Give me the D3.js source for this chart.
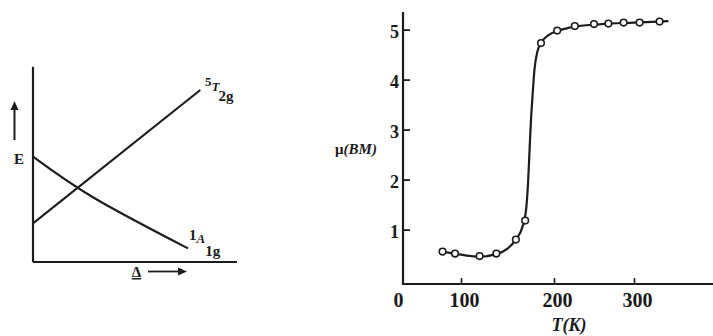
<!DOCTYPE html>
<html><head><meta charset="utf-8">
<script src="https://cdn.jsdelivr.net/npm/d3@7"></script>
<style>
body{margin:0;background:#fff;}
svg{display:block;}
text{font-family:"Liberation Serif","DejaVu Serif",serif;fill:#1a1a1a;}
</style></head><body>
<svg id="c" width="713" height="336"></svg>
<script>
// ---------- Left panel: energy vs ligand field (schematic) ----------
const lowSpinLabel = "1A1g";
const highSpinLabel = "5T2g";
const lowSpinDelta = [0, 3.0, 7.6];
const lowSpinE     = [5.27, 3.2, 0.68];
const highSpinDelta = [0, 8.2];
const highSpinE     = [1.93, 8.6];

// ---------- Right panel: magnetic moment vs temperature ----------
const tempTicks = [0, 100, 200, 300];
const muTicks = [1, 2, 3, 4, 5];
const measuredT  = [72, 91, 120, 138, 159, 169, 186, 204, 226, 250, 268, 287, 307, 332];
const measuredMu = [0.56, 0.52, 0.47, 0.52, 0.80, 1.18, 4.73, 4.98, 5.07, 5.11, 5.12, 5.14, 5.14, 5.16];
const fitT  = [72, 91, 120, 138, 150, 159, 166, 170, 172, 173.5, 175, 177, 179, 182, 186, 195, 204, 226, 260, 300, 343];
const fitMu = [0.56, 0.52, 0.46, 0.51, 0.62, 0.80, 1.05, 1.4, 1.9, 2.5, 3.1, 3.7, 4.2, 4.55, 4.73, 4.9, 4.97, 5.06, 5.11, 5.14, 5.17];

const svg = d3.select("#c");
const ink = "#1c1c1c";

// ===== Left panel =====
const xL = d3.scaleLinear().domain([0, 10]).range([33, 237]);
const yL = d3.scaleLinear().domain([0, 10]).range([262, 62]);
const L = svg.append("g");
L.append("line").attr("x1", xL(0)).attr("x2", xL(0)).attr("y1", yL(9.76)).attr("y2", yL(0))
  .attr("stroke", ink).attr("stroke-width", 2.2);
L.append("line").attr("x1", xL(0)).attr("x2", xL(10)).attr("y1", yL(0)).attr("y2", yL(0))
  .attr("stroke", ink).attr("stroke-width", 2.2);

const lineL = d3.line().x(d => xL(d[0])).y(d => yL(d[1])).curve(d3.curveNatural);
L.append("path").datum(d3.zip(lowSpinDelta, lowSpinE)).attr("d", lineL)
  .attr("fill", "none").attr("stroke", ink).attr("stroke-width", 2.1);
L.append("path").datum(d3.zip(highSpinDelta, highSpinE)).attr("d", lineL)
  .attr("fill", "none").attr("stroke", ink).attr("stroke-width", 2.1);

// E arrow
L.append("line").attr("x1", 14.5).attr("x2", 14.5).attr("y1", 140).attr("y2", 108)
  .attr("stroke", ink).attr("stroke-width", 2);
L.append("path").attr("d", "M10.5,110 L14.5,101 L18.5,110 Z").attr("fill", ink);
L.append("text").attr("x", 19).attr("y", 164).attr("text-anchor", "middle")
  .attr("font-size", 15).attr("font-weight", "bold").text("E");

// Delta arrow
L.append("text").attr("x", 136.5).attr("y", 277).attr("text-anchor", "middle")
  .attr("font-size", 15).attr("font-weight", "bold").attr("text-decoration", "underline").text("Δ");
L.append("line").attr("x1", 148).attr("x2", 180).attr("y1", 271.5).attr("y2", 271.5)
  .attr("stroke", ink).attr("stroke-width", 1.8);
L.append("path").attr("d", "M178,267.5 L187,271.5 L178,275.5 Z").attr("fill", ink);

// state labels
const hs = L.append("text").attr("x", 205).attr("y", 86).attr("font-size", 13).attr("font-weight", "bold");
hs.append("tspan").text(highSpinLabel[0]);
hs.append("tspan").attr("font-style", "italic").attr("dy", 5).attr("font-size", 13).text(highSpinLabel[1]);
hs.append("tspan").attr("dy", 10).attr("dx", -1).attr("font-size", 15).text(highSpinLabel.slice(2));

const ls = L.append("text").attr("x", 189).attr("y", 240).attr("font-size", 15).attr("font-weight", "bold");
ls.append("tspan").text(lowSpinLabel[0]);
ls.append("tspan").attr("font-style", "italic").attr("dy", 3).attr("font-size", 13).text(lowSpinLabel[1]);
ls.append("tspan").attr("dy", 13).attr("dx", 0).attr("font-size", 15).text(lowSpinLabel.slice(2));

// ===== Right panel =====
const xR = d3.scaleLinear().domain([0, 100, 200, 300, 400]).range([395, 461, 554, 634, 714]);
const yR = d3.scaleLinear().domain([0, 5]).range([279.6, 29.6]);
const R = svg.append("g");
const axisX0 = 403, axisY0 = 284;

// y axis line & ticks
R.append("line").attr("x1", axisX0).attr("x2", axisX0).attr("y1", yR(5.35)).attr("y2", axisY0 + 1)
  .attr("stroke", ink).attr("stroke-width", 2.2);
const yAx = R.append("g").attr("transform", `translate(${axisX0},0)`)
  .call(d3.axisLeft(yR).tickValues(muTicks).tickSize(-7).tickPadding(4).tickFormat(d3.format("d")));
yAx.select(".domain").remove();
yAx.selectAll(".tick line").attr("stroke", ink).attr("stroke-width", 1.8);
yAx.selectAll(".tick text").attr("font-size", 18).attr("font-weight", "bold")
  .attr("font-family", "Liberation Serif").attr("fill", ink).attr("dy", "0.42em");

// x axis line & ticks
R.append("line").attr("x1", axisX0 - 1).attr("x2", 713).attr("y1", axisY0).attr("y2", axisY0)
  .attr("stroke", ink).attr("stroke-width", 2.2);
const xAx = R.append("g").attr("transform", `translate(0,${axisY0})`)
  .call(d3.axisBottom(xR).tickValues(tempTicks).tickSize(-6).tickPadding(9).tickFormat(d3.format("d")));
xAx.select(".domain").remove();
xAx.selectAll(".tick line").attr("stroke", ink).attr("stroke-width", 1.6)
  .attr("display", d => d === 0 ? "none" : null);
xAx.selectAll(".tick text").attr("font-size", 20).attr("font-weight", "bold")
  .attr("font-family", "Liberation Serif").attr("fill", ink).attr("dx", 3);

// axis titles
R.append("text").attr("x", 569).attr("y", 331).attr("text-anchor", "middle")
  .attr("font-size", 18).attr("font-style", "italic").attr("font-weight", "bold").text("T(K)");
const mu = R.append("text").attr("x", 356).attr("y", 154).attr("text-anchor", "middle")
  .attr("font-size", 15).attr("font-weight", "bold").attr("fill", "#444");
mu.append("tspan").text("μ");
mu.append("tspan").attr("font-style", "italic").text("(BM)");

// fitted curve
const lineR = d3.line().x(d => xR(d[0])).y(d => yR(d[1])).curve(d3.curveMonotoneX);
R.append("path").datum(d3.zip(fitT, fitMu)).attr("d", lineR)
  .attr("fill", "none").attr("stroke", ink).attr("stroke-width", 2.2);

// measured points
R.append("g").selectAll("circle").data(d3.zip(measuredT, measuredMu)).join("circle")
  .attr("cx", d => xR(d[0])).attr("cy", d => yR(d[1])).attr("r", 3.3)
  .attr("fill", "#fff").attr("stroke", ink).attr("stroke-width", 1.6);
</script>
</body></html>
